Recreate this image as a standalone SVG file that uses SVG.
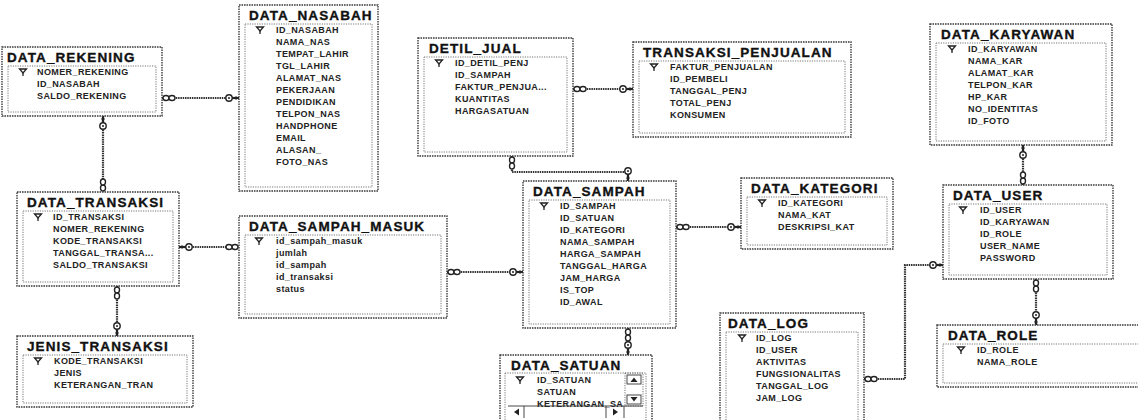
<svg xmlns="http://www.w3.org/2000/svg" xmlns:xlink="http://www.w3.org/1999/xlink" width="1138" height="420" viewBox="0 0 1138 420">
<style>
.box{fill:none;stroke:#3a3a3a;stroke-width:1.4;stroke-dasharray:1.6 0.9}
.inner{fill:none;stroke:#777;stroke-width:1;stroke-dasharray:1.2 1.2}
.title{font-family:"Liberation Sans",Arial,sans-serif;font-weight:bold;font-size:13.5px;letter-spacing:1.1px;fill:#111;stroke:#111;stroke-width:0.35}
.row{font-family:"Liberation Sans",Arial,sans-serif;font-weight:bold;font-size:9px;letter-spacing:0.4px;fill:#222}
.conn{fill:none;stroke:#333;stroke-width:2.2;stroke-dasharray:1.5 0.8}
.sym{fill:#fff;stroke:#222;stroke-width:1.4}
.sb{fill:none;stroke:#333;stroke-width:0.9}
</style>
<defs>
<g id="pk"><path d="M-3.5,-3 h7 l-3.5,4 z" fill="none" stroke="#222" stroke-width="1.3"/><path d="M0,1 v3" stroke="#222" stroke-width="1.3"/></g>
<g id="k"><path d="M3,0 H10" stroke="#222" stroke-width="2.2"/><path d="M7,-1.8 V1.8" stroke="#222" stroke-width="1"/><circle r="3.2" class="sym"/><circle r="1" fill="#222"/></g>
<g id="inf"><ellipse cx="3" cy="0" rx="3" ry="2.5" class="sym"/><ellipse cx="9" cy="0" rx="3" ry="2.5" class="sym"/></g>
</defs>
<rect width="1138" height="420" fill="#fff"/>

<g id="connectors">
<path class="conn" d="M162,98 H239"/>
<use href="#inf" transform="translate(163,98)"/>
<use href="#k" transform="translate(229,98)"/>

<path class="conn" d="M103,116 V192"/>
<use href="#k" transform="translate(103,126) rotate(-90)"/>
<use href="#inf" transform="translate(103,191) rotate(-90)"/>

<path class="conn" d="M179,247 H239"/>
<use href="#k" transform="translate(189,247) rotate(180)"/>
<use href="#inf" transform="translate(238,247) rotate(180)"/>

<path class="conn" d="M117,286 V336"/>
<use href="#inf" transform="translate(117,287) rotate(90)"/>
<use href="#k" transform="translate(117,326) rotate(90)"/>

<path class="conn" d="M447,272 H523"/>
<use href="#inf" transform="translate(448,272)"/>
<use href="#k" transform="translate(513,272)"/>

<path class="conn" d="M573,89 H633"/>
<use href="#inf" transform="translate(574,89)"/>
<use href="#k" transform="translate(623,89)"/>

<path class="conn" d="M512,156 V172 H628 V181"/>
<use href="#inf" transform="translate(512,157) rotate(90)"/>
<use href="#k" transform="translate(628,171) rotate(90)"/>

<path class="conn" d="M676,227 H741"/>
<use href="#inf" transform="translate(677,227)"/>
<use href="#k" transform="translate(731,227)"/>

<path class="conn" d="M628,328 V355"/>
<use href="#inf" transform="translate(628,329) rotate(90)"/>
<use href="#k" transform="translate(628,345) rotate(90)"/>

<path class="conn" d="M1023,145 V185"/>
<use href="#k" transform="translate(1023,155) rotate(-90)"/>
<use href="#inf" transform="translate(1023,184) rotate(-90)"/>

<path class="conn" d="M1036,279 V325"/>
<use href="#inf" transform="translate(1036,280) rotate(90)"/>
<use href="#k" transform="translate(1036,315) rotate(90)"/>

<path class="conn" d="M864,379 H905 V265 H943"/>
<use href="#inf" transform="translate(865,379)"/>
<use href="#k" transform="translate(933,265)"/>
</g>

<g id="data_rekening">
<rect class="box" x="2" y="47" width="160" height="69"/>
<rect class="inner" x="8" y="66" width="148" height="46"/>
<text class="title" x="7" y="62">DATA_REKENING</text>
<use href="#pk" x="23" y="72"/>
<text class="row" x="37" y="75">NOMER_REKENING</text>
<text class="row" x="37" y="87">ID_NASABAH</text>
<text class="row" x="37" y="99">SALDO_REKENING</text>
</g>

<g id="data_nasabah">
<rect class="box" x="239" y="5" width="139" height="186"/>
<rect class="inner" x="245" y="24" width="127" height="163"/>
<text class="title" x="249" y="20">DATA_NASABAH</text>
<use href="#pk" x="260" y="30"/>
<text class="row" x="276" y="33">ID_NASABAH</text>
<text class="row" x="276" y="45">NAMA_NAS</text>
<text class="row" x="276" y="57">TEMPAT_LAHIR</text>
<text class="row" x="276" y="69">TGL_LAHIR</text>
<text class="row" x="276" y="81">ALAMAT_NAS</text>
<text class="row" x="276" y="93">PEKERJAAN</text>
<text class="row" x="276" y="105">PENDIDIKAN</text>
<text class="row" x="276" y="117">TELPON_NAS</text>
<text class="row" x="276" y="129">HANDPHONE</text>
<text class="row" x="276" y="141">EMAIL</text>
<text class="row" x="276" y="153">ALASAN_</text>
<text class="row" x="276" y="165">FOTO_NAS</text>
</g>

<g id="data_transaksi">
<rect class="box" x="17" y="192" width="162" height="94"/>
<rect class="inner" x="23" y="211" width="150" height="71"/>
<text class="title" x="27" y="207">DATA_TRANSAKSI</text>
<use href="#pk" x="38" y="217"/>
<text class="row" x="53" y="220">ID_TRANSAKSI</text>
<text class="row" x="53" y="232">NOMER_REKENING</text>
<text class="row" x="53" y="244">KODE_TRANSAKSI</text>
<text class="row" x="53" y="256">TANGGAL_TRANSA...</text>
<text class="row" x="53" y="268">SALDO_TRANSAKSI</text>
</g>

<g id="jenis_transaksi">
<rect class="box" x="17" y="336" width="176" height="71"/>
<rect class="inner" x="23" y="355" width="164" height="48"/>
<text class="title" x="27" y="351">JENIS_TRANSAKSI</text>
<use href="#pk" x="38" y="361"/>
<text class="row" x="54" y="364">KODE_TRANSAKSI</text>
<text class="row" x="54" y="376">JENIS</text>
<text class="row" x="54" y="388">KETERANGAN_TRAN</text>
</g>

<g id="data_sampah_masuk">
<rect class="box" x="239" y="216" width="208" height="102"/>
<rect class="inner" x="245" y="235" width="196" height="79"/>
<text class="title" x="249" y="231">DATA_SAMPAH_MASUK</text>
<use href="#pk" x="259" y="241"/>
<text class="row" x="276" y="244">id_sampah_masuk</text>
<text class="row" x="276" y="256">jumlah</text>
<text class="row" x="276" y="268">id_sampah</text>
<text class="row" x="276" y="280">id_transaksi</text>
<text class="row" x="276" y="292">status</text>
</g>

<g id="detil_jual">
<rect class="box" x="418" y="38" width="155" height="118"/>
<rect class="inner" x="424" y="57" width="143" height="95"/>
<text class="title" x="429" y="53">DETIL_JUAL</text>
<use href="#pk" x="439" y="63"/>
<text class="row" x="455" y="66">ID_DETIL_PENJ</text>
<text class="row" x="455" y="78">ID_SAMPAH</text>
<text class="row" x="455" y="90">FAKTUR_PENJUA...</text>
<text class="row" x="455" y="102">KUANTITAS</text>
<text class="row" x="455" y="114">HARGASATUAN</text>
</g>

<g id="transaksi_penjualan">
<rect class="box" x="633" y="42" width="218" height="95"/>
<rect class="inner" x="639" y="61" width="206" height="72"/>
<text class="title" x="643" y="57">TRANSAKSI_PENJUALAN</text>
<use href="#pk" x="654" y="67"/>
<text class="row" x="670" y="70">FAKTUR_PENJUALAN</text>
<text class="row" x="670" y="82">ID_PEMBELI</text>
<text class="row" x="670" y="94">TANGGAL_PENJ</text>
<text class="row" x="670" y="106">TOTAL_PENJ</text>
<text class="row" x="670" y="118">KONSUMEN</text>
</g>

<g id="data_sampah">
<rect class="box" x="523" y="181" width="153" height="147"/>
<rect class="inner" x="529" y="200" width="141" height="124"/>
<text class="title" x="533" y="196">DATA_SAMPAH</text>
<use href="#pk" x="544" y="206"/>
<text class="row" x="560" y="209">ID_SAMPAH</text>
<text class="row" x="560" y="221">ID_SATUAN</text>
<text class="row" x="560" y="233">ID_KATEGORI</text>
<text class="row" x="560" y="245">NAMA_SAMPAH</text>
<text class="row" x="560" y="257">HARGA_SAMPAH</text>
<text class="row" x="560" y="269">TANGGAL_HARGA</text>
<text class="row" x="560" y="281">JAM_HARGA</text>
<text class="row" x="560" y="293">IS_TOP</text>
<text class="row" x="560" y="305">ID_AWAL</text>
</g>

<g id="data_kategori">
<rect class="box" x="741" y="178" width="152" height="71"/>
<rect class="inner" x="747" y="197" width="140" height="48"/>
<text class="title" x="751" y="193">DATA_KATEGORI</text>
<use href="#pk" x="762" y="203"/>
<text class="row" x="778" y="206">ID_KATEGORI</text>
<text class="row" x="778" y="218">NAMA_KAT</text>
<text class="row" x="778" y="230">DESKRIPSI_KAT</text>
</g>

<g id="data_karyawan">
<rect class="box" x="930" y="24" width="182" height="121"/>
<rect class="inner" x="936" y="43" width="170" height="98"/>
<text class="title" x="941" y="39">DATA_KARYAWAN</text>
<use href="#pk" x="952" y="49"/>
<text class="row" x="968" y="52">ID_KARYAWAN</text>
<text class="row" x="968" y="64">NAMA_KAR</text>
<text class="row" x="968" y="76">ALAMAT_KAR</text>
<text class="row" x="968" y="88">TELPON_KAR</text>
<text class="row" x="968" y="100">HP_KAR</text>
<text class="row" x="968" y="112">NO_IDENTITAS</text>
<text class="row" x="968" y="124">ID_FOTO</text>
</g>

<g id="data_user">
<rect class="box" x="943" y="185" width="170" height="94"/>
<rect class="inner" x="949" y="204" width="158" height="71"/>
<text class="title" x="953" y="200">DATA_USER</text>
<use href="#pk" x="963" y="210"/>
<text class="row" x="980" y="213">ID_USER</text>
<text class="row" x="980" y="225">ID_KARYAWAN</text>
<text class="row" x="980" y="237">ID_ROLE</text>
<text class="row" x="980" y="249">USER_NAME</text>
<text class="row" x="980" y="261">PASSWORD</text>
</g>

<g id="data_role">
<rect class="box" x="937" y="325" width="210" height="62"/>
<rect class="inner" x="943" y="344" width="200" height="39"/>
<text class="title" x="948" y="340">DATA_ROLE</text>
<use href="#pk" x="961" y="350"/>
<text class="row" x="977" y="353">ID_ROLE</text>
<text class="row" x="977" y="365">NAMA_ROLE</text>
</g>

<g id="data_log">
<rect class="box" x="720" y="313" width="144" height="115"/>
<rect class="inner" x="726" y="332" width="132" height="92"/>
<text class="title" x="728" y="328">DATA_LOG</text>
<use href="#pk" x="742" y="338"/>
<text class="row" x="756" y="341">ID_LOG</text>
<text class="row" x="756" y="353">ID_USER</text>
<text class="row" x="756" y="365">AKTIVITAS</text>
<text class="row" x="756" y="377">FUNGSIONALITAS</text>
<text class="row" x="756" y="389">TANGGAL_LOG</text>
<text class="row" x="756" y="401">JAM_LOG</text>
</g>

<g id="data_satuan">
<rect class="box" x="500" y="355" width="152" height="70"/>
<rect class="inner" x="505" y="373" width="141" height="48"/>
<text class="title" x="511" y="370">DATA_SATUAN</text>
<use href="#pk" x="520" y="380"/>
<text class="row" x="537" y="383">ID_SATUAN</text>
<text class="row" x="537" y="395">SATUAN</text>
<text class="row" x="537" y="407" letter-spacing="0.1">KETERANGAN_SA</text>
<rect class="inner" x="625" y="373" width="18" height="33"/>
<rect class="sb" x="627" y="375" width="14" height="9"/>
<path d="M630.5,382 L634,377.5 L637.5,382 Z" fill="#222"/>
<rect class="sb" x="627" y="395" width="14" height="9"/>
<path d="M630.5,397 L634,401.5 L637.5,397 Z" fill="#222"/>
<path class="sb" d="M508,406 H643 M524,406 V418 M606,406 V418 M624,406 V418"/>
<path d="M514,412 L519,408.5 L519,415.5 Z" fill="#222"/>
<path d="M618,412 L613,408.5 L613,415.5 Z" fill="#222"/>
</g>
</svg>
